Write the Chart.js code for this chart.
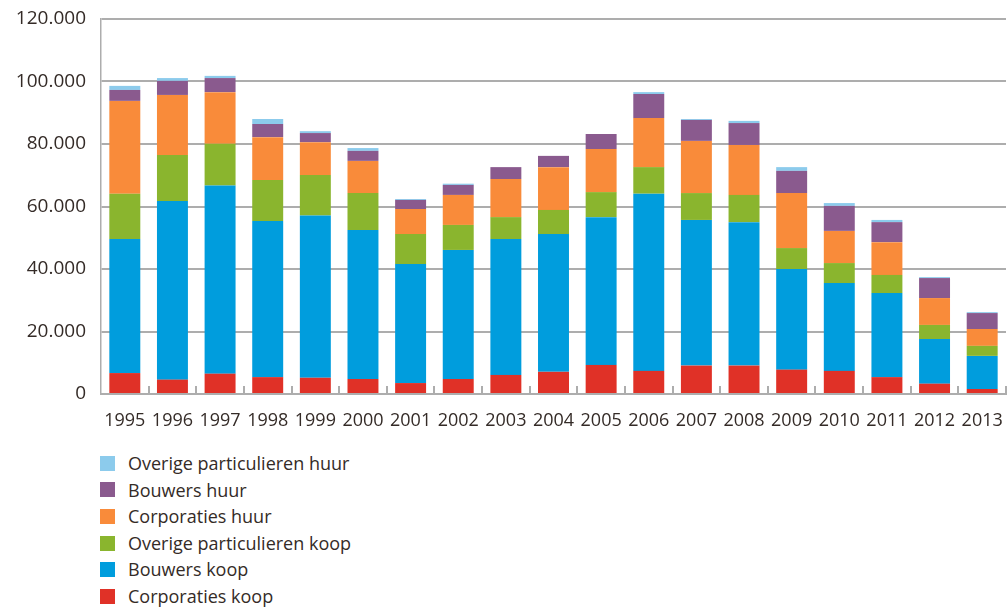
<!DOCTYPE html>
<html lang="nl">
<head>
<meta charset="utf-8">
<title>Woningproductie 1995-2013</title>
<script src="https://cdn.jsdelivr.net/npm/chart.js@4.4.1/dist/chart.umd.min.js"></script>
<style>
  html, body { margin: 0; padding: 0; background: #fff; }
  #wrap { position: relative; width: 1007px; height: 609px; overflow: hidden; }
  #chartBox { position: absolute; left: 0; top: 0; width: 1007px; height: 440px; }
  #legend {
    position: absolute; left: 100px; top: 450px; margin: 0; padding: 0;
    list-style: none; font-family: 'Open Sans', sans-serif; font-size: 18px; color: #342b27;
  }
  #legend li { height: 26.6px; line-height: 26.6px; display: flex; align-items: center; }
  #legend .box { width: 15px; height: 15px; margin-right: 13px; flex: none; }
</style>
</head>
<body>
<div id="wrap">
  <div id="chartBox"><canvas id="chart"></canvas></div>
  <ul id="legend"></ul>
</div>
<script>
// ── Data (aantal woningen) ─────────────────────────────────────
const years = ['1995', '1996', '1997', '1998', '1999', '2000', '2001', '2002', '2003', '2004',
               '2005', '2006', '2007', '2008', '2009', '2010', '2011', '2012', '2013'];

const corporatiesKoop = [6700, 4600, 6500, 5400, 5200, 4800, 3500, 4800, 6100, 7100,
                         9300, 7400, 9100, 9100, 7800, 7400, 5400, 3300, 1600];
const bouwersKoop     = [42900, 57200, 60200, 50000, 51900, 47700, 38100, 41300, 43500, 44100,
                         47300, 56700, 46600, 45900, 32200, 28100, 26900, 14300, 10600];
const overigeKoop     = [14500, 14700, 13400, 13100, 13000, 11800, 9600, 8000, 7000, 7700,
                         8000, 8500, 8600, 8700, 6700, 6400, 5800, 4500, 3200];
const corporatiesHuur = [29700, 19200, 16500, 13700, 10500, 10300, 8000, 9600, 12200, 13700,
                         13800, 15700, 16700, 16000, 17600, 10300, 10500, 8600, 5400];
const bouwersHuur     = [3500, 4500, 4500, 4200, 2900, 3200, 2900, 3200, 3800, 3600,
                         4800, 7700, 6700, 7000, 7100, 8000, 6400, 6400, 5100];
const overigeHuur     = [1300, 900, 700, 1600, 600, 900, 300, 400, 0, 0,
                         0, 600, 300, 700, 1200, 900, 700, 300, 300];

const yTicks = [0, 20000, 40000, 60000, 80000, 100000, 120000];

// ── Colours ───────────────────────────────────────────────────
const COLORS = {
  corporatiesKoop: '#e03127',
  bouwersKoop:     '#009ddd',
  overigeKoop:     '#8ab52e',
  corporatiesHuur: '#f98b3a',
  bouwersHuur:     '#8a5a8e',
  overigeHuur:     '#8ccbec',
};
const TEXT  = '#342b27';
const GRID  = '#adadad';
const FONT  = "'Open Sans', sans-serif";

const fmt = (v) => String(v).replace(/\B(?=(\d{3})+(?!\d))/g, '.');

// ── Small tick marks between categories, pointing up ──────────
const boundaryTicks = {
  id: 'boundaryTicks',
  beforeDatasetsDraw(chart) {
    const { ctx, scales: { x }, chartArea } = chart;
    const step = (x.getPixelForValue(1) - x.getPixelForValue(0));
    ctx.save();
    ctx.strokeStyle = GRID;
    ctx.lineWidth = 2;
    for (let i = 1; i <= years.length; i++) {
      const px = Math.round(x.getPixelForValue(i - 1) + step / 2);
      ctx.beginPath();
      ctx.moveTo(px, chartArea.bottom);
      ctx.lineTo(px, chartArea.bottom - 8);
      ctx.stroke();
    }
    ctx.restore();
  }
};

const series = [
  ['Corporaties koop',             corporatiesKoop, COLORS.corporatiesKoop],
  ['Bouwers koop',                 bouwersKoop,     COLORS.bouwersKoop],
  ['Overige particulieren koop',   overigeKoop,     COLORS.overigeKoop],
  ['Corporaties huur',             corporatiesHuur, COLORS.corporatiesHuur],
  ['Bouwers huur',                 bouwersHuur,     COLORS.bouwersHuur],
  ['Overige particulieren huur',   overigeHuur,     COLORS.overigeHuur],
];

const chart = new Chart(document.getElementById('chart'), {
  type: 'bar',
  data: {
    labels: years,
    datasets: series.map(([label, data, color]) => ({
      label,
      data,
      backgroundColor: color,
      borderWidth: 0,
      barPercentage: 0.65,
      categoryPercentage: 1,
    })),
  },
  options: {
    responsive: true,
    maintainAspectRatio: false,
    animation: false,
    layout: { padding: { top: 19, right: 1, left: 0, bottom: 0 } },
    plugins: {
      legend:  { display: false },
      tooltip: { enabled: false },
    },
    scales: {
      x: {
        stacked: true,
        grid: { display: false, drawTicks: false },
        border: { display: true, color: GRID, width: 2 },
        ticks: { color: TEXT, font: { family: FONT, size: 18 }, padding: 16, maxRotation: 0 },
        afterFit: (s) => { s.height = 46; s.paddingLeft = 0; s.paddingRight = 0; },
      },
      y: {
        stacked: true,
        min: 0,
        max: 120000,
        afterBuildTicks: (s) => { s.ticks = yTicks.map(v => ({ value: v })); },
        grid: { color: GRID, lineWidth: 2, drawTicks: false },
        border: { display: true, color: GRID, width: 1.5 },
        ticks: { color: TEXT, font: { family: FONT, size: 19 }, padding: 15, callback: (v) => fmt(v) },
        afterFit: (s) => { s.width = 101; s.paddingTop = 0; s.paddingBottom = 0; },
      },
    },
  },
  plugins: [boundaryTicks],
});

// ── HTML legend (top of stack first) ──────────────────────────
const legendEl = document.getElementById('legend');
chart.data.datasets.slice().reverse().forEach(ds => {
  const li = document.createElement('li');
  const box = document.createElement('span');
  box.className = 'box';
  box.style.background = ds.backgroundColor;
  li.appendChild(box);
  li.appendChild(document.createTextNode(ds.label));
  legendEl.appendChild(li);
});
</script>
</body>
</html>
